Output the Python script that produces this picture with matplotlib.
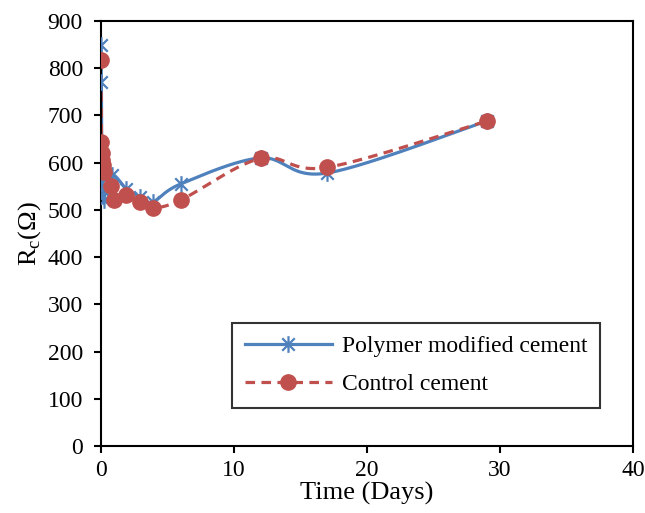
import numpy as np
import matplotlib.pyplot as plt
from matplotlib.path import Path

plt.rcParams['font.family'] = ['Liberation Serif', 'DejaVu Serif']
plt.rcParams['mathtext.fontset'] = 'custom'
plt.rcParams['mathtext.rm'] = 'Liberation Serif'

# data
t_poly = [0, 0.03, 0.06, 0.1, 0.15, 0.2, 0.8, 1.9, 2.9, 3.9, 6, 12, 17, 29]
r_poly = [850, 770, 560, 545, 530, 522, 574, 545, 528, 517, 555, 610, 578, 688]

t_ctrl = [0, 0.03, 0.06, 0.1, 0.15, 0.2, 0.75, 1.0, 1.9, 2.9, 3.9, 6, 12, 17, 29]
r_ctrl = [817, 644, 620, 606, 595, 581, 550, 522, 532, 517, 505, 521, 609, 590, 688]

labels = ['Polymer modified cement', 'Control cement']
blue = '#4F81BD'
red = '#C0504D'


def smooth(x, y, n=30):
    # Catmull-Rom style curve like Excel's smoothed line
    x = np.asarray(x, float)
    y = np.asarray(y, float)
    px = np.concatenate([[x[0]], x, [x[-1]]])
    py = np.concatenate([[y[0]], y, [y[-1]]])
    xs, ys = [], []
    s = np.linspace(0, 1, n)
    for i in range(1, len(px) - 2):
        p0x, p1x, p2x, p3x = px[i - 1], px[i], px[i + 1], px[i + 2]
        p0y, p1y, p2y, p3y = py[i - 1], py[i], py[i + 1], py[i + 2]
        c1x = p1x + (p2x - p0x) / 6
        c1y = p1y + (p2y - p0y) / 6
        c2x = p2x - (p3x - p1x) / 6
        c2y = p2y - (p3y - p1y) / 6
        bx = (1 - s) ** 3 * p1x + 3 * (1 - s) ** 2 * s * c1x + 3 * (1 - s) * s ** 2 * c2x + s ** 3 * p2x
        by = (1 - s) ** 3 * p1y + 3 * (1 - s) ** 2 * s * c1y + 3 * (1 - s) * s ** 2 * c2y + s ** 3 * p2y
        xs.extend(bx)
        ys.extend(by)
    return np.array(xs), np.array(ys)


star = Path([(0, -1), (0, 1), (-0.75, -0.75), (0.75, 0.75), (-0.75, 0.75), (0.75, -0.75)],
            [Path.MOVETO, Path.LINETO, Path.MOVETO, Path.LINETO, Path.MOVETO, Path.LINETO])

fig = plt.figure(figsize=(6.45, 5.13), dpi=100)
ax = fig.add_axes([101 / 645, 67 / 513, 532 / 645, 425 / 513])

sx, sy = smooth(t_poly, r_poly)
ax.plot(sx, sy, color=blue, lw=2.3, zorder=2)
ax.plot(t_poly, r_poly, ls='none', marker=star, ms=12, mew=1.6, mec=blue, mfc='none', zorder=3)

cx, cy = smooth(t_ctrl, r_ctrl)
ax.plot(cx, cy, color=red, lw=2.3, ls=(0, (3, 2)), zorder=2)
ax.plot(t_ctrl, r_ctrl, ls='none', marker='o', ms=11, mec=red, mfc=red, zorder=4)

# legend proxies
h1, = ax.plot([], [], color=blue, lw=2.3, marker=star, ms=12, mew=1.6, mec=blue)
h2, = ax.plot([], [], color=red, lw=2.3, ls=(0, (3, 2)), marker='o', ms=11, mec=red, mfc=red)
leg = ax.legend([h1, h2], labels, loc='lower right', bbox_to_anchor=(0.938, 0.089),
                fontsize=17, frameon=True, fancybox=False, edgecolor='black',
                handlelength=3.7, borderpad=0.55, labelspacing=0.7, handletextpad=0.4,
                borderaxespad=0)
leg.get_frame().set_linewidth(1.5)

ax.set_xlim(0, 40)
ax.set_ylim(0, 900)
ax.set_xticks(np.arange(0, 41, 10))
ax.set_yticks(np.arange(0, 901, 100))
ax.tick_params(direction='out', length=5, width=1.5, labelsize=17)
ax.tick_params(axis='y', pad=8)
ax.tick_params(axis='x', pad=5)
for sp in ax.spines.values():
    sp.set_linewidth(1.5)
ax.set_xlabel('Time (Days)', fontsize=19, labelpad=1)
ax.set_ylabel(r'R$_\mathrm{c}$(Ω)', fontsize=19, labelpad=3)

fig.savefig('out.png', dpi=100)
